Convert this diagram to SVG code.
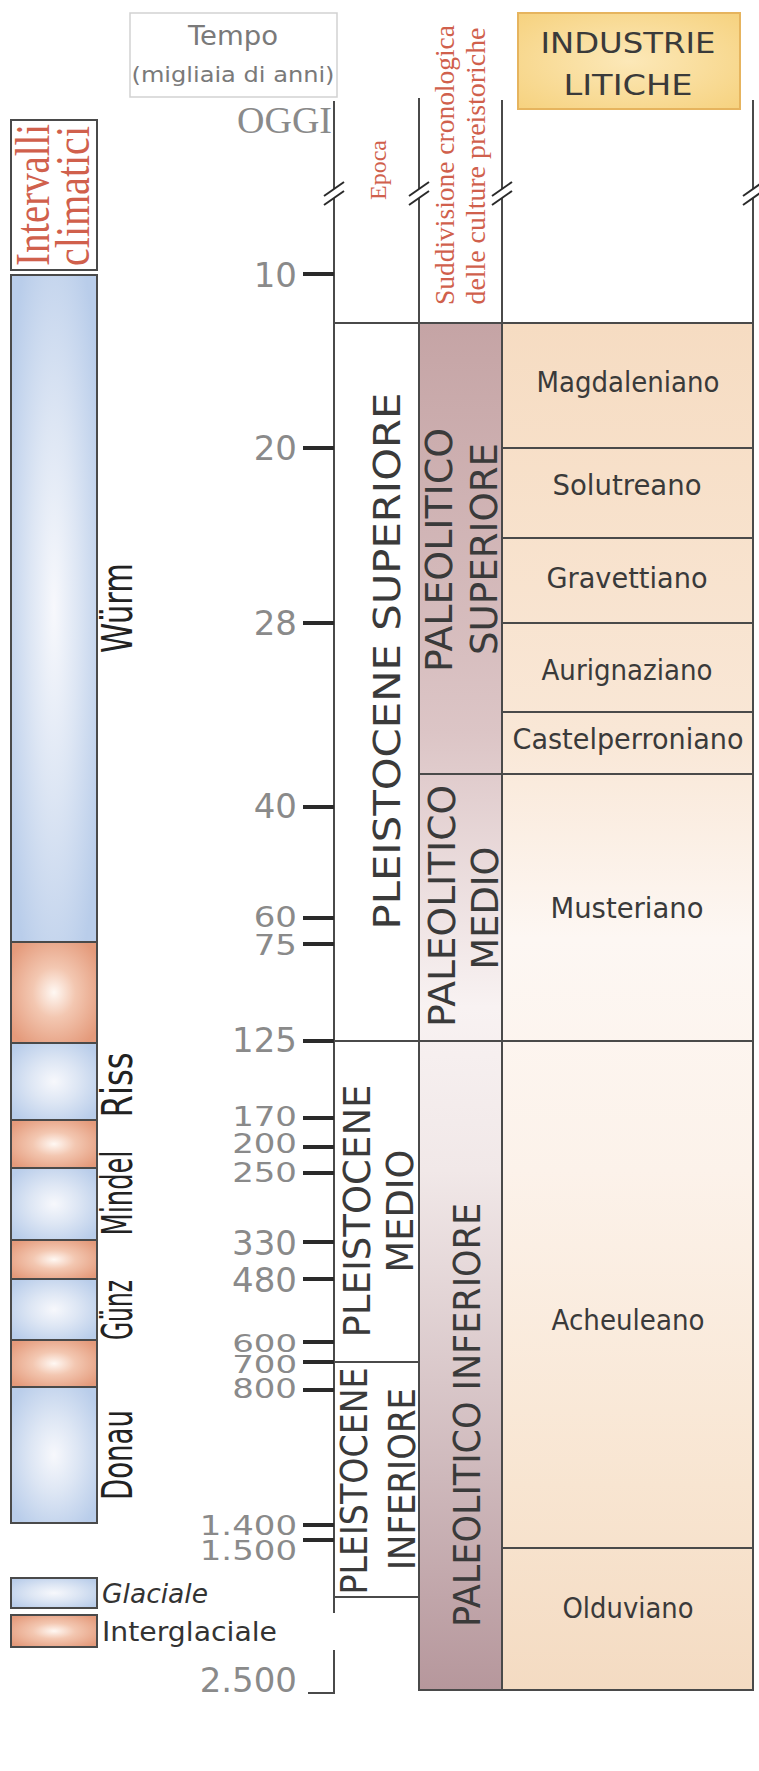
<svg xmlns="http://www.w3.org/2000/svg" width="759" height="1771" viewBox="0 0 759 1771">
<defs>
<radialGradient id="glac" cx="0.5" cy="0.5" r="0.62">
<stop offset="0" stop-color="#f7f8fc"/>
<stop offset="0.45" stop-color="#dde6f4"/>
<stop offset="1" stop-color="#b9cdea"/>
</radialGradient>
<radialGradient id="inter" cx="0.5" cy="0.5" r="0.62">
<stop offset="0" stop-color="#fff8f3"/>
<stop offset="0.4" stop-color="#f3c7b1"/>
<stop offset="1" stop-color="#e49a7b"/>
</radialGradient>
<linearGradient id="paleo" x1="0" y1="323" x2="0" y2="1690" gradientUnits="userSpaceOnUse">
<stop offset="0" stop-color="#c5a4a5"/>
<stop offset="0.3" stop-color="#dcc5c6"/>
<stop offset="0.5" stop-color="#f8f2f2"/>
<stop offset="0.62" stop-color="#f1e8e8"/>
<stop offset="1" stop-color="#b6979c"/>
</linearGradient>
<linearGradient id="indus" x1="0" y1="323" x2="0" y2="1690" gradientUnits="userSpaceOnUse">
<stop offset="0" stop-color="#f6dcc2"/>
<stop offset="0.3" stop-color="#f9e7d6"/>
<stop offset="0.45" stop-color="#fdf7f3"/>
<stop offset="0.62" stop-color="#fcf2ea"/>
<stop offset="0.85" stop-color="#f8e5d1"/>
<stop offset="1" stop-color="#f4dbc2"/>
</linearGradient>
<radialGradient id="ind-head" cx="0.5" cy="0.5" r="0.7">
<stop offset="0" stop-color="#fce8b8"/>
<stop offset="1" stop-color="#f6d27f"/>
</radialGradient>
<style>
.seg{stroke:#4a4a4a;stroke-width:2}
.axis{stroke:#4a4a4a;stroke-width:2;fill:none}
.tick{stroke:#2a2a2a;stroke-width:4}
.num{font-family:"DejaVu Sans",sans-serif;font-size:34px;fill:#8a8a8a;text-anchor:end}
.clim{font-family:"DejaVu Sans",sans-serif;font-size:42px;fill:#222;text-anchor:middle}
.cap{font-family:"DejaVu Sans",sans-serif;font-size:37px;fill:#3a3a3a;text-anchor:middle}
.ind{font-family:"DejaVu Sans",sans-serif;font-size:28px;fill:#3a3a3a;text-anchor:middle}
.red{font-family:"Liberation Serif",serif;fill:#d0604c;text-anchor:middle}
.brk{stroke:#2a2a2a;stroke-width:2}
</style>
</defs>
<rect width="759" height="1771" fill="#ffffff"/>

<g id="columns-fill">
<rect x="419" y="323" width="83" height="1367" fill="url(#paleo)"/>
<rect x="502" y="323" width="251" height="1367" fill="url(#indus)"/>
</g>

<g id="header-tempo">
<rect x="130" y="13" width="207" height="84" fill="#ffffff" stroke="#d2d2d2" stroke-width="1.5"/>
<text x="233" y="45" font-family="DejaVu Sans,sans-serif" font-size="26" fill="#7a7a7a" text-anchor="middle" textLength="90" lengthAdjust="spacingAndGlyphs">Tempo</text>
<text x="233" y="82" font-family="DejaVu Sans,sans-serif" font-size="21" fill="#7a7a7a" text-anchor="middle" textLength="203" lengthAdjust="spacingAndGlyphs">(migliaia di anni)</text>
</g>

<g id="header-industrie">
<rect x="518" y="13" width="222" height="96" fill="url(#ind-head)" stroke="#e6b45e" stroke-width="2"/>
<text class="ind" x="628" y="53" textLength="175" lengthAdjust="spacingAndGlyphs">INDUSTRIE</text>
<text class="ind" x="628" y="95" textLength="129" lengthAdjust="spacingAndGlyphs">LITICHE</text>
</g>

<g id="header-intervalli">
<rect x="11" y="120" width="86" height="150" fill="#ffffff" class="seg"/>
<text class="red" font-size="48" transform="translate(49,195) rotate(-90)" textLength="142" lengthAdjust="spacingAndGlyphs">Intervalli</text>
<text class="red" font-size="48" transform="translate(89,196) rotate(-90)" textLength="140" lengthAdjust="spacingAndGlyphs">climatici</text>
</g>

<g id="header-epoca">
<text class="red" font-size="24" transform="translate(386,170) rotate(-90)" textLength="60" lengthAdjust="spacingAndGlyphs">Epoca</text>
</g>

<g id="header-suddivisione">
<text class="red" font-size="27.5" transform="translate(454,165) rotate(-90)" textLength="280" lengthAdjust="spacingAndGlyphs">Suddivisione cronologica</text>
<text class="red" font-size="27.5" transform="translate(485,166) rotate(-90)" textLength="277" lengthAdjust="spacingAndGlyphs">delle culture preistoriche</text>
</g>

<g id="oggi">
<text x="332" y="133" font-family="Liberation Serif,serif" font-size="38" fill="#8a8a8a" text-anchor="end">OGGI</text>
</g>

<g id="climate-bar">
<rect id="wurm" x="11" y="275" width="86" height="667" fill="url(#glac)" class="seg"/>
<rect id="inter1" x="11" y="942" width="86" height="101" fill="url(#inter)" class="seg"/>
<rect id="riss" x="11" y="1043" width="86" height="77" fill="url(#glac)" class="seg"/>
<rect id="inter2" x="11" y="1120" width="86" height="48" fill="url(#inter)" class="seg"/>
<rect id="mindel" x="11" y="1168" width="86" height="72" fill="url(#glac)" class="seg"/>
<rect id="inter3" x="11" y="1240" width="86" height="39" fill="url(#inter)" class="seg"/>
<rect id="gunz" x="11" y="1279" width="86" height="61" fill="url(#glac)" class="seg"/>
<rect id="inter4" x="11" y="1340" width="86" height="47" fill="url(#inter)" class="seg"/>
<rect id="donau" x="11" y="1387" width="86" height="136" fill="url(#glac)" class="seg"/>
</g>

<g id="climate-labels">
<text class="clim" transform="translate(132,608) rotate(-90)" textLength="90" lengthAdjust="spacingAndGlyphs">Würm</text>
<text class="clim" transform="translate(132,1085) rotate(-90)" textLength="65" lengthAdjust="spacingAndGlyphs">Riss</text>
<text class="clim" transform="translate(132,1193) rotate(-90)" textLength="85" lengthAdjust="spacingAndGlyphs">Mindel</text>
<text class="clim" transform="translate(132,1310) rotate(-90)" textLength="60" lengthAdjust="spacingAndGlyphs">Günz</text>
<text class="clim" transform="translate(132,1455) rotate(-90)" textLength="90" lengthAdjust="spacingAndGlyphs">Donau</text>
</g>

<g id="legend">
<rect x="11" y="1578" width="86" height="30" fill="url(#glac)" class="seg"/>
<rect x="11" y="1615" width="86" height="32" fill="url(#inter)" class="seg"/>
<text x="102" y="1603" font-family="DejaVu Sans,sans-serif" font-size="26" font-style="italic" fill="#333" textLength="106" lengthAdjust="spacingAndGlyphs">Glaciale</text>
<text x="102" y="1641" font-family="DejaVu Sans,sans-serif" font-size="26" fill="#333" textLength="175" lengthAdjust="spacingAndGlyphs">Interglaciale</text>
</g>

<g id="connectors">
<line class="axis" x1="334" y1="101" x2="334" y2="1613"/>
<line class="axis" x1="419" y1="98" x2="419" y2="1691"/>
<line class="axis" x1="502" y1="100" x2="502" y2="1691"/>
<line class="axis" x1="753" y1="100" x2="753" y2="1691"/>
<line class="axis" x1="334" y1="323" x2="753" y2="323"/>
<line class="axis" x1="334" y1="1041" x2="753" y2="1041"/>
<line class="axis" x1="334" y1="1362" x2="419" y2="1362"/>
<line class="axis" x1="334" y1="1597" x2="419" y2="1597"/>
<line class="axis" x1="418" y1="1690" x2="754" y2="1690"/>
<line class="axis" x1="419" y1="774" x2="753" y2="774"/>
<line class="axis" x1="502" y1="448" x2="753" y2="448"/>
<line class="axis" x1="502" y1="538" x2="753" y2="538"/>
<line class="axis" x1="502" y1="623" x2="753" y2="623"/>
<line class="axis" x1="502" y1="712" x2="753" y2="712"/>
<line class="axis" x1="502" y1="1548" x2="753" y2="1548"/>
<polyline class="axis" points="308,1693 334,1693 334,1650"/>
<g id="ticks">
<line class="tick" x1="303" y1="274" x2="334" y2="274"/>
<line class="tick" x1="303" y1="448" x2="334" y2="448"/>
<line class="tick" x1="303" y1="623" x2="334" y2="623"/>
<line class="tick" x1="303" y1="807" x2="334" y2="807"/>
<line class="tick" x1="303" y1="918" x2="334" y2="918"/>
<line class="tick" x1="303" y1="944" x2="334" y2="944"/>
<line class="tick" x1="303" y1="1041" x2="334" y2="1041"/>
<line class="tick" x1="303" y1="1118" x2="334" y2="1118"/>
<line class="tick" x1="303" y1="1147" x2="334" y2="1147"/>
<line class="tick" x1="303" y1="1173" x2="334" y2="1173"/>
<line class="tick" x1="303" y1="1242" x2="334" y2="1242"/>
<line class="tick" x1="303" y1="1279" x2="334" y2="1279"/>
<line class="tick" x1="303" y1="1342" x2="334" y2="1342"/>
<line class="tick" x1="303" y1="1362" x2="334" y2="1362"/>
<line class="tick" x1="303" y1="1390" x2="334" y2="1390"/>
<line class="tick" x1="303" y1="1525" x2="334" y2="1525"/>
<line class="tick" x1="303" y1="1540" x2="334" y2="1540"/>
</g>
<g id="breaks">
<polygon points="324,196 344,182 344,191 324,205" fill="#ffffff"/>
<line class="brk" x1="324" y1="196" x2="344" y2="182"/>
<line class="brk" x1="324" y1="205" x2="344" y2="191"/>
<polygon points="409,196 429,182 429,191 409,205" fill="#ffffff"/>
<line class="brk" x1="409" y1="196" x2="429" y2="182"/>
<line class="brk" x1="409" y1="205" x2="429" y2="191"/>
<polygon points="492,196 512,182 512,191 492,205" fill="#ffffff"/>
<line class="brk" x1="492" y1="196" x2="512" y2="182"/>
<line class="brk" x1="492" y1="205" x2="512" y2="191"/>
<polygon points="743,196 763,182 763,191 743,205" fill="#ffffff"/>
<line class="brk" x1="743" y1="196" x2="763" y2="182"/>
<line class="brk" x1="743" y1="205" x2="763" y2="191"/>
</g>
</g>

<g id="time-labels">
<text class="num" x="297" y="287">10</text>
<text class="num" x="297" y="460">20</text>
<text class="num" x="297" y="635">28</text>
<text class="num" x="297" y="818">40</text>
<text class="num" transform="translate(297,927) scale(1,0.85)">60</text>
<text class="num" transform="translate(297,955) scale(1,0.85)">75</text>
<text class="num" x="297" y="1052">125</text>
<text class="num" transform="translate(297,1126) scale(1,0.8)">170</text>
<text class="num" transform="translate(297,1153) scale(1,0.8)">200</text>
<text class="num" transform="translate(297,1182) scale(1,0.8)">250</text>
<text class="num" x="297" y="1255">330</text>
<text class="num" x="297" y="1292">480</text>
<text class="num" transform="translate(297,1352) scale(1,0.72)">600</text>
<text class="num" transform="translate(297,1373) scale(1,0.72)">700</text>
<text class="num" transform="translate(297,1398) scale(1,0.8)">800</text>
<text class="num" transform="translate(297,1535) scale(1,0.8)">1.400</text>
<text class="num" transform="translate(297,1560) scale(1,0.8)">1.500</text>
<text class="num" x="297" y="1692">2.500</text>
</g>

<g id="epoche">
<text class="cap" transform="translate(400,661) rotate(-90)" textLength="537" lengthAdjust="spacingAndGlyphs">PLEISTOCENE SUPERIORE</text>
<text class="cap" transform="translate(370,1211) rotate(-90)" textLength="253" lengthAdjust="spacingAndGlyphs">PLEISTOCENE</text>
<text class="cap" transform="translate(413,1211) rotate(-90)" textLength="123" lengthAdjust="spacingAndGlyphs">MEDIO</text>
<text class="cap" transform="translate(367,1481) rotate(-90)" textLength="227" lengthAdjust="spacingAndGlyphs">PLEISTOCENE</text>
<text class="cap" transform="translate(415,1479) rotate(-90)" textLength="182" lengthAdjust="spacingAndGlyphs">INFERIORE</text>
</g>

<g id="culture">
<text class="cap" fill="#4a3d3e" transform="translate(452,550) rotate(-90)" textLength="244" lengthAdjust="spacingAndGlyphs">PALEOLITICO</text>
<text class="cap" fill="#4a3d3e" transform="translate(497,549) rotate(-90)" textLength="212" lengthAdjust="spacingAndGlyphs">SUPERIORE</text>
<text class="cap" fill="#4a3d3e" transform="translate(455,906) rotate(-90)" textLength="242" lengthAdjust="spacingAndGlyphs">PALEOLITICO</text>
<text class="cap" fill="#4a3d3e" transform="translate(498,908) rotate(-90)" textLength="123" lengthAdjust="spacingAndGlyphs">MEDIO</text>
<text class="cap" fill="#4a3d3e" transform="translate(480,1415) rotate(-90)" textLength="424" lengthAdjust="spacingAndGlyphs">PALEOLITICO INFERIORE</text>
</g>

<g id="industrie">
<text class="ind" x="628" y="392" textLength="183" lengthAdjust="spacingAndGlyphs">Magdaleniano</text>
<text class="ind" x="627" y="495" textLength="149" lengthAdjust="spacingAndGlyphs">Solutreano</text>
<text class="ind" x="627" y="588" textLength="161" lengthAdjust="spacingAndGlyphs">Gravettiano</text>
<text class="ind" x="627" y="680" textLength="171" lengthAdjust="spacingAndGlyphs">Aurignaziano</text>
<text class="ind" x="628" y="749" textLength="231" lengthAdjust="spacingAndGlyphs">Castelperroniano</text>
<text class="ind" x="627" y="918" textLength="153" lengthAdjust="spacingAndGlyphs">Musteriano</text>
<text class="ind" x="628" y="1330" textLength="153" lengthAdjust="spacingAndGlyphs">Acheuleano</text>
<text class="ind" x="628" y="1618" textLength="131" lengthAdjust="spacingAndGlyphs">Olduviano</text>
</g>
</svg>
